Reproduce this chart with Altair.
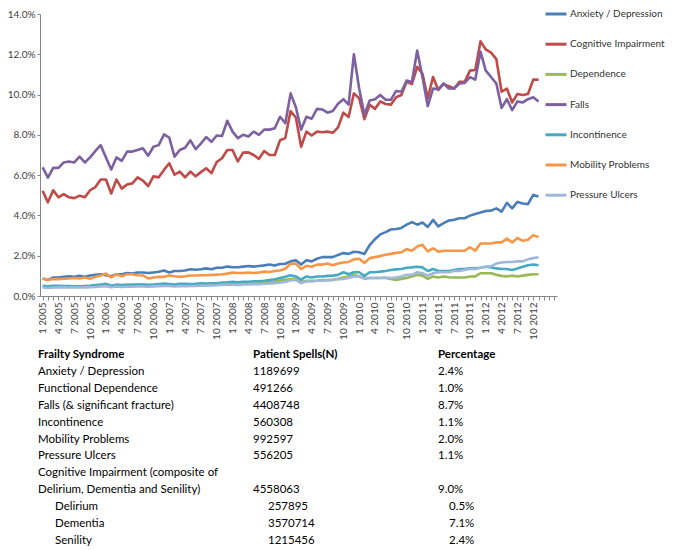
import altair as alt
import pandas as pd

series_names = ["Anxiety / Depression", "Cognitive Impairment", "Dependence", "Falls",
                "Incontinence", "Mobility Problems", "Pressure Ulcers"]
series_colors = ["#4A7EBB", "#BE4B48", "#98B954", "#7D60A0", "#46AAC5", "#F79646", "#A0B7DC"]

# monthly values (%), Jan 2005 .. Nov 2012
anxiety = [0.87, 0.79, 0.92, 0.92, 0.95, 0.98, 0.95, 1.0, 0.95, 1.02,
           1.05, 1.08, 1.03, 0.98, 1.08, 1.08, 1.14, 1.11, 1.17, 1.17,
           1.14, 1.17, 1.2, 1.27, 1.17, 1.24, 1.24, 1.27, 1.33, 1.3,
           1.33, 1.37, 1.33, 1.4, 1.4, 1.46, 1.43, 1.43, 1.46, 1.49,
           1.46, 1.49, 1.52, 1.56, 1.51, 1.59, 1.6,
           1.72, 1.77, 1.56, 1.77, 1.72, 1.85, 1.93, 1.93, 1.93, 2.04,
           2.13, 2.09, 2.2, 2.17, 2.09, 2.53, 2.82, 3.06, 3.17, 3.3,
           3.33, 3.38, 3.54, 3.67, 3.54, 3.65, 3.43, 3.78, 3.46, 3.62,
           3.75, 3.78, 3.86, 3.86, 3.99, 4.07, 4.14, 4.22, 4.24, 4.35,
           4.19, 4.62, 4.35, 4.67, 4.59, 4.56, 5.02, 4.94]
cognitive = [5.22, 4.65, 5.25, 4.9, 5.06, 4.9, 4.86, 4.98, 4.9, 5.25,
             5.41, 5.78, 5.78, 5.09, 5.78, 5.33, 5.54, 5.59, 5.89, 5.73,
             5.46, 5.94, 5.89, 6.26, 6.59, 6.02, 6.18, 5.89, 6.18, 5.94,
             6.15, 6.34, 6.1, 6.65, 6.84, 7.25, 7.25, 6.68, 7.12, 7.13,
             7.0, 6.81, 7.2, 7.0, 7.0, 7.73, 7.84, 9.18, 8.86, 7.41,
             8.16, 7.97, 8.16, 8.13, 8.16, 8.1, 8.37, 9.1, 8.89, 10.06,
             9.82, 8.78, 9.5, 9.29, 9.66, 9.53, 9.5, 9.87, 9.98, 10.63,
             10.52, 11.38, 11.03, 9.82, 10.87, 10.23, 10.52, 10.42, 10.3, 10.63,
             10.63, 11.19, 11.22, 12.64, 12.24, 12.08, 11.76, 10.14, 10.3, 9.61,
             10.03, 9.98, 10.03, 10.74, 10.74]
dependence = [0.47, 0.45, 0.47, 0.47, 0.47, 0.47, 0.48, 0.48, 0.49, 0.5,
              0.53, 0.57, 0.6, 0.5, 0.55, 0.53, 0.55, 0.55, 0.56, 0.55,
              0.54, 0.55, 0.57, 0.6, 0.58, 0.54, 0.56, 0.56, 0.57, 0.57,
              0.58, 0.58, 0.59, 0.6, 0.63, 0.66, 0.65, 0.62, 0.64, 0.65,
              0.66, 0.66, 0.68, 0.7, 0.72, 0.77, 0.8,
              0.84, 0.85, 0.69, 0.76, 0.76, 0.76, 0.79, 0.79, 0.8, 0.85,
              0.92, 0.97, 1.05, 0.97, 0.89, 0.89, 0.89, 0.89, 0.89, 0.85,
              0.8, 0.85, 0.89, 0.97, 1.05, 1.01, 0.85, 0.97, 0.92, 0.97,
              0.93, 0.92, 0.92, 0.92, 0.97, 0.97, 1.13, 1.13, 1.13, 1.05,
              1.0, 0.97, 1.01, 0.97, 1.01, 1.05, 1.08, 1.08]
falls = [6.39, 5.88, 6.36, 6.36, 6.63, 6.68, 6.63, 6.92, 6.63, 6.88,
         7.2, 7.49, 6.88, 6.28, 6.88, 6.71, 7.17, 7.17, 7.25, 7.33,
         6.96, 7.41, 7.49, 8.02, 7.86, 6.92, 7.25, 7.36, 7.73, 7.29,
         7.57, 7.89, 7.65, 7.97, 7.94, 8.7, 8.16, 7.84, 8.0, 7.92,
         8.16, 8.0, 8.26, 8.26, 8.33, 8.9, 8.58, 10.06, 9.37, 8.26,
         8.9, 8.8, 9.29, 9.26, 9.1, 9.18, 9.55, 9.77, 9.5, 12.0,
         10.3, 9.0, 9.71, 9.77, 9.98, 9.74, 9.74, 10.18, 10.14, 10.7,
         10.63, 12.19, 10.87, 9.42, 10.3, 10.26, 10.55, 10.3, 10.3, 10.55,
         10.58, 10.87, 10.74, 12.13, 11.19, 10.87, 10.55, 9.34, 9.77, 9.23,
         9.66, 9.61, 9.77, 9.87, 9.66]
incontinence = [0.51, 0.48, 0.51, 0.51, 0.49, 0.49, 0.48, 0.48, 0.49, 0.51,
                0.54, 0.56, 0.59, 0.51, 0.56, 0.54, 0.56, 0.56, 0.57, 0.57,
                0.56, 0.57, 0.59, 0.6, 0.59, 0.57, 0.6, 0.6, 0.59, 0.6,
                0.63, 0.62, 0.63, 0.63, 0.67, 0.68, 0.7, 0.68, 0.7, 0.71,
                0.73, 0.74, 0.76, 0.79, 0.83, 0.89, 0.95,
                1.03, 0.97, 0.81, 0.97, 0.92, 0.97, 0.97, 1.0, 1.01, 1.05,
                1.18, 1.08, 1.18, 1.18, 1.0, 1.18, 1.18, 1.21, 1.24, 1.29,
                1.32, 1.34, 1.4, 1.42, 1.45, 1.42, 1.24, 1.34, 1.24, 1.24,
                1.24, 1.29, 1.34, 1.34, 1.37, 1.37, 1.4, 1.45, 1.42, 1.37,
                1.34, 1.34, 1.29, 1.37, 1.45, 1.53, 1.56, 1.53]
mobility = [0.87, 0.79, 0.84, 0.84, 0.86, 0.87, 0.89, 0.87, 0.92, 0.86,
            0.95, 1.02, 1.11, 0.92, 1.08, 0.98, 1.08, 1.08, 1.03, 1.02,
            0.87, 0.92, 0.95, 0.95, 1.02, 0.98, 0.95, 0.98, 1.02, 1.02,
            1.03, 1.03, 1.05, 1.06, 1.08, 1.11, 1.17, 1.14, 1.14, 1.17,
            1.14, 1.17, 1.21, 1.19, 1.24, 1.27, 1.35,
            1.6, 1.61, 1.34, 1.5, 1.45, 1.56, 1.56, 1.61, 1.53, 1.61,
            1.66, 1.69, 1.82, 1.85, 1.64, 1.88, 1.93, 1.98, 2.05, 2.09,
            2.14, 2.17, 2.33, 2.25, 2.46, 2.54, 2.22, 2.37, 2.2, 2.25,
            2.25, 2.25, 2.25, 2.25, 2.42, 2.25, 2.61, 2.61, 2.61, 2.66,
            2.66, 2.85, 2.66, 2.88, 2.74, 2.79, 3.01, 2.93]
pressure = [0.43, 0.4, 0.42, 0.43, 0.43, 0.42, 0.43, 0.42, 0.43, 0.44,
            0.45, 0.47, 0.49, 0.43, 0.47, 0.45, 0.46, 0.46, 0.47, 0.47,
            0.46, 0.48, 0.49, 0.5, 0.5, 0.47, 0.49, 0.49, 0.5, 0.5,
            0.52, 0.51, 0.52, 0.53, 0.55, 0.57, 0.56, 0.55, 0.57, 0.57,
            0.59, 0.59, 0.61, 0.62, 0.64, 0.67, 0.7,
            0.78, 0.8, 0.64, 0.72, 0.72, 0.76, 0.76, 0.79, 0.8, 0.84,
            0.85, 0.89, 0.97, 0.97, 0.85, 0.89, 0.89, 0.89, 0.92, 0.89,
            0.92, 0.97, 1.05, 1.05, 1.18, 1.13, 1.01, 1.13, 1.18, 1.18,
            1.18, 1.24, 1.24, 1.29, 1.34, 1.34, 1.4, 1.45, 1.48, 1.61,
            1.66, 1.69, 1.69, 1.72, 1.72, 1.82, 1.88, 1.92]

tick_labels = [f"{m} {y}" for y in range(2005, 2013) for m in (1, 4, 7, 10)]
y_ticks = [0, 2, 4, 6, 8, 10, 12, 14]

# table below the chart
table_header = ["Frailty Syndrome", "Patient Spells(N)", "Percentage"]
table_names = ["Anxiety / Depression", "Functional Dependence", "Falls (& significant fracture)",
               "Incontinence", "Mobility Problems", "Pressure Ulcers",
               "Cognitive Impairment (composite of", "Delirium, Dementia and Senility)"]
table_spells = ["1189699", "491266", "4408748", "560308", "992597", "556205", "", "4558063"]
table_pct = ["2.4%", "1.0%", "8.7%", "1.1%", "2.0%", "1.1%", "", "9.0%"]
sub_names = ["Delirium", "Dementia", "Senility"]
sub_spells = ["257895", "3570714", "1215456"]
sub_pct = ["0.5%", "7.1%", "2.4%"]

FONT = "Lato"

rows = []
for name, vals in zip(series_names, [anxiety, cognitive, dependence, falls,
                                     incontinence, mobility, pressure]):
    for i, v in enumerate(vals):
        rows.append({"series": name, "month": i, "value": v})
df = pd.DataFrame(rows)

label_arr = "[" + ",".join("'" + t + "'" for t in tick_labels) + "]"
x_label_expr = (f"(datum.value % 3 == 0 && datum.value / 3 < {len(tick_labels)}) ? "
                f"{label_arr}[datum.value / 3] : ''")

lines = alt.Chart(df).mark_line(strokeWidth=2.6, strokeJoin="round").encode(
    x=alt.X("month:Q",
            scale=alt.Scale(domain=[-0.5, 97.5], nice=False, zero=False),
            axis=alt.Axis(values=list(range(0, 98)), labelExpr=x_label_expr,
                          labelAngle=270, labelAlign="right", labelBaseline="middle",
                          labelOverlap=False, labelFlush=False, grid=False, title=None,
                          tickSize=4, labelPadding=2, labelFontSize=10)),
    y=alt.Y("value:Q",
            scale=alt.Scale(domain=[0, 14], nice=False),
            axis=alt.Axis(values=y_ticks, labelExpr="format(datum.value, '.1f') + '%'",
                          grid=False, title=None, tickSize=3, labelPadding=2,
                          labelFontSize=10)),
    color=alt.Color("series:N",
                    scale=alt.Scale(domain=series_names, range=series_colors),
                    legend=alt.Legend(title=None, orient="none", legendX=504, legendY=-12,
                                      symbolType="stroke", symbolSize=441,
                                      symbolStrokeWidth=3, rowPadding=12.2,
                                      labelFont=FONT, labelFontSize=10,
                                      labelColor="#333333", labelOffset=2,
                                      labelLimit=200)),
)

n_rows = 1 + len(table_names) + len(sub_names)
tbl_rows = []
for i in range(3):
    tbl_rows.append({"row": 0, "kind": "header", "col": i, "text": table_header[i]})
for r, (a, b, c) in enumerate(zip(table_names, table_spells, table_pct), start=1):
    for i, t in enumerate([a, b, c]):
        tbl_rows.append({"row": r, "kind": "main", "col": i, "text": t})
for r, (a, b, c) in enumerate(zip(sub_names, sub_spells, sub_pct), start=1 + len(table_names)):
    for i, t in enumerate([a, b, c]):
        tbl_rows.append({"row": r, "kind": "sub", "col": i, "text": t})
tdf = pd.DataFrame(tbl_rows)

col_x = {"header": [-2, 213, 398], "main": [-2, 213, 398], "sub": [15, 228, 409]}


def text_layer(kind, col):
    sub = tdf[(tdf["kind"] == kind) & (tdf["col"] == col)]
    return alt.Chart(sub).mark_text(
        align="left", baseline="middle", font=FONT, fontSize=11.5,
        fontWeight="bold" if kind == "header" else "normal", color="#000000"
    ).encode(
        x=alt.value(col_x[kind][col]),
        y=alt.Y("row:Q", scale=alt.Scale(domain=[0, n_rows - 1], range=[341, 527],
                                         nice=False, zero=False), axis=None),
        text="text:N",
    )


texts = [text_layer(k, c) for k in ["header", "main", "sub"] for c in range(3)]

chart = alt.layer(lines, *texts).resolve_scale(y="independent").properties(
    width=517, height=282,
    autosize=alt.AutoSizeParams(type="none"),
    padding={"left": 32, "top": 6, "right": 115, "bottom": 254},
).configure_view(stroke=None).configure_axis(
    labelFont=FONT, labelColor="#404040", domainColor="#868686", tickColor="#868686"
)

chart.save("out.html", embed_options={"renderer": "svg", "actions": False})
